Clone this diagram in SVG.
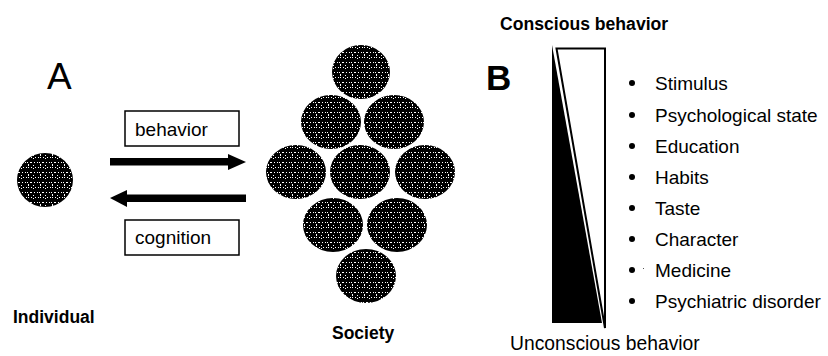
<svg xmlns="http://www.w3.org/2000/svg" width="828" height="356" viewBox="0 0 828 356">
  <defs>
    <!-- speckled fill used for the person discs -->
    <pattern id="speckle" width="12" height="10" patternUnits="userSpaceOnUse">
      <rect width="12" height="10" fill="#000"/>
      <rect x="1" y="2" width="1" height="1" fill="#fff"/>
      <rect x="3" y="2" width="1" height="1" fill="#fff"/>
      <rect x="6" y="2" width="2" height="1" fill="#fff"/>
      <rect x="10" y="2" width="1" height="1" fill="#fff"/>
      <rect x="4" y="4" width="1" height="1" fill="#fff"/>
      <rect x="4" y="5" width="1" height="1" fill="#fff"/>
      <rect x="9" y="5" width="1" height="1" fill="#fff"/>
      <rect x="2" y="7" width="1" height="1" fill="#fff"/>
      <rect x="4" y="7" width="1" height="1" fill="#fff"/>
      <rect x="7" y="7" width="1" height="1" fill="#fff"/>
      <rect x="9" y="8" width="1" height="1" fill="#fff"/>
      <rect x="11" y="7" width="1" height="1" fill="#fff"/>
    </pattern>
  </defs>
  <style>
    text { font-family: "Liberation Sans", Arial, sans-serif; fill: #000; }
    .disc { fill: url(#speckle); }
    .lbl { font-size: 19px; }
    .cap { font-size: 17.5px; font-weight: bold; }
    .item { font-size: 19px; }
    .box { fill: #fff; stroke: #000; stroke-width: 1.5; }
    .arrow { fill: #000; }
    .dot { fill: #000; }
  </style>

  <rect width="828" height="356" fill="#fff"/>

  <!-- Panel A -->
  <text x="47" y="89" style="font-size:37px">A</text>

  <g id="individual">
    <ellipse class="disc" cx="45" cy="180" rx="28" ry="27"/>
    <text class="cap" x="13" y="323">Individual</text>
  </g>

  <g id="society">
    <ellipse class="disc" cx="361" cy="72" rx="29" ry="27"/>
    <ellipse class="disc" cx="331" cy="122" rx="30" ry="27"/>
    <ellipse class="disc" cx="394" cy="122" rx="30" ry="27"/>
    <ellipse class="disc" cx="296" cy="172" rx="30" ry="27"/>
    <ellipse class="disc" cx="360" cy="172" rx="30" ry="27"/>
    <ellipse class="disc" cx="425" cy="172" rx="30" ry="27"/>
    <ellipse class="disc" cx="333" cy="225" rx="30" ry="27"/>
    <ellipse class="disc" cx="397" cy="225" rx="30" ry="27"/>
    <ellipse class="disc" cx="366" cy="276" rx="30" ry="27"/>
    <text class="cap" x="332" y="339">Society</text>
  </g>

  <g id="behavior-label">
    <rect class="box" x="125" y="111" width="114" height="35"/>
    <text class="lbl" x="135" y="136">behavior</text>
  </g>

  <g id="cognition-label">
    <rect class="box" x="125" y="220" width="114" height="35"/>
    <text class="lbl" x="135" y="244">cognition</text>
  </g>

  <g id="connectors">
    <!-- individual to society -->
    <rect class="arrow" x="110" y="158" width="119" height="7.5"/>
    <polygon class="arrow" points="228,154 246,162 228,170"/>
    <!-- society to individual -->
    <rect class="arrow" x="126" y="194.5" width="120" height="7.5"/>
    <polygon class="arrow" points="110,198 127,190 127,207"/>
  </g>

  <!-- Panel B -->
  <text x="486" y="90" style="font-size:35px;font-weight:bold">B</text>
  <text x="500" y="30" style="font-size:17.6px;font-weight:bold">Conscious behavior</text>
  <text x="510" y="350" style="font-size:19.3px">Unconscious behavior</text>

  <g id="scale">
    <polygon points="552,45 552,323 602,323" fill="#000"/>
    <polygon points="556.5,48.5 605,48.5 605,328" fill="#fff" stroke="#000" stroke-width="2" stroke-linejoin="miter"/>
  </g>

  <g id="factors">
    <circle class="dot" cx="632" cy="83" r="3"/>
    <text class="item" x="655" y="90">Stimulus</text>
    <circle class="dot" cx="632" cy="115" r="3"/>
    <text class="item" x="655" y="122">Psychological state</text>
    <circle class="dot" cx="632" cy="146" r="3"/>
    <text class="item" x="655" y="153">Education</text>
    <circle class="dot" cx="632" cy="177" r="3"/>
    <text class="item" x="655" y="184">Habits</text>
    <circle class="dot" cx="632" cy="208" r="3"/>
    <text class="item" x="655" y="215">Taste</text>
    <circle class="dot" cx="632" cy="239" r="3"/>
    <text class="item" x="655" y="246">Character</text>
    <circle class="dot" cx="632" cy="270" r="3"/>
    <rect x="643" y="268" width="1" height="1" fill="#555"/>
    <text class="item" x="655" y="277">Medicine</text>
    <circle class="dot" cx="632" cy="301" r="3"/>
    <text class="item" x="655" y="308">Psychiatric disorder</text>
  </g>
</svg>
